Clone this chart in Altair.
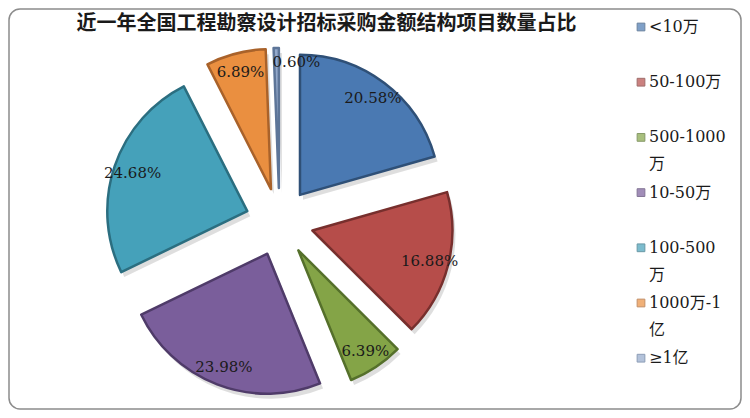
import math
import altair as alt
import pandas as pd

# ---- data ----
categories = ["<10万", "50-100万", "500-1000万", "10-50万", "100-500万", "1000万-1亿", "≥1亿"]
shares = [20.58, 16.88, 6.39, 23.98, 24.68, 6.89, 0.60]
fill_colors = ["#4a79b2", "#b64d4a", "#84a447", "#7a5e9b", "#45a1ba", "#ea8f40", "#93a9cb"]
edge_colors = ["#2f5077", "#772f2d", "#55702b", "#4f3b69", "#2b6e80", "#a9622a", "#5d7598"]
title_text = "近一年全国工程勘察设计招标采购金额结构项目数量占比"

# ---- layout ----
W, H = 734, 402
CX, CY = 271.5, 214
R = 140
EXPLODE = 34
LABEL_R = 155
LEG_X, LEG_Y0, LEG_STEP = 633, 19, 55.2
FONT = "DejaVu Serif, Noto Sans CJK SC"

total = sum(shares)
rows = []
cum = 0.0
for i, (c, v) in enumerate(zip(categories, shares)):
    t0 = cum / total * 2 * math.pi
    cum += v
    t1 = cum / total * 2 * math.pi
    rows.append(dict(idx=i, cat=c, share=v, t0=t0, t1=t1, mid=(t0 + t1) / 2,
                     pct=f"{v:.2f}%",
                     leg=c if len(c) <= 7 else c[:-1] + "\n" + c[-1]))
df = pd.DataFrame(rows)

color_scale = alt.Scale(domain=categories, range=fill_colors)
edge_scale = alt.Scale(domain=categories, range=edge_colors)

base = alt.Chart(df).transform_calculate(
    ax=f"{CX} + {EXPLODE} * sin(datum.mid)",
    ay=f"{CY} - {EXPLODE} * cos(datum.mid)",
    lx=f"{CX} + {LABEL_R} * sin(datum.mid)",
    ly=f"{CY} - {LABEL_R} * cos(datum.mid)",
    gy=f"{LEG_Y0} + datum.idx * {LEG_STEP}",
    small="datum.share < 2",
)

one = alt.Chart(pd.DataFrame({"k": [0]}))

frame = one.mark_rect(cornerRadius=11, fill="white", stroke="#8c8c8c", strokeWidth=1.5).encode(
    x=alt.value(1), x2=alt.value(W - 1), y=alt.value(1), y2=alt.value(H - 1)
)

arc_enc = dict(
    theta=alt.Theta("t0:Q", scale=None, stack=False),
    theta2="t1:Q",
    x=alt.X("ax:Q", scale=None, stack=False),
    y=alt.Y("ay:Q", scale=None, stack=False),
)

shadow = base.mark_arc(radius=R, fill="#000000", opacity=0.13, xOffset=3, yOffset=5).encode(**arc_enc)

arcs = base.mark_arc(radius=R, strokeWidth=2.5, strokeJoin="round").encode(
    color=alt.Color("cat:N", scale=color_scale, legend=None),
    stroke=alt.Stroke("cat:N", scale=edge_scale, legend=None),
    **arc_enc,
)

# regular labels centred on their anchor; the tiny slice's label runs to the right
labels_main = base.transform_filter("!datum.small").mark_text(
    font=FONT, fontSize=15, color="#1a1a1a").encode(
    x=alt.X("lx:Q", scale=None),
    y=alt.Y("ly:Q", scale=None),
    text="pct:N",
)
labels_small = base.transform_filter("datum.small").mark_text(
    font=FONT, fontSize=15, color="#1a1a1a", align="left", dx=-4, dy=-5).encode(
    x=alt.X("lx:Q", scale=None),
    y=alt.Y("ly:Q", scale=None),
    text="pct:N",
)

leg_sq = base.mark_square(size=60, strokeWidth=1).encode(
    x=alt.value(LEG_X),
    y=alt.Y("gy:Q", scale=None),
    color=alt.Color("cat:N", scale=color_scale, legend=None),
    stroke=alt.Stroke("cat:N", scale=edge_scale, legend=None),
)

leg_tx = base.mark_text(font=FONT, fontSize=16, align="left", baseline="top", dy=-8,
                        lineBreak="\n", lineHeight=27, color="#1a1a1a").encode(
    x=alt.value(LEG_X + 8),
    y=alt.Y("gy:Q", scale=None),
    text="leg:N",
)

title = one.mark_text(font="Noto Sans CJK SC", fontSize=20, fontWeight="bold",
                      color="#1a1a1a", align="center", baseline="middle").encode(
    x=alt.value(318.5), y=alt.value(16), text=alt.value(title_text)
)

chart = alt.layer(frame, shadow, arcs, labels_main, labels_small, leg_sq, leg_tx, title).properties(
    width=W, height=H, padding=0, autosize="none", background="white"
).configure_view(stroke=None)

chart.save("out.html", embed_options={"renderer": "svg", "actions": False})
